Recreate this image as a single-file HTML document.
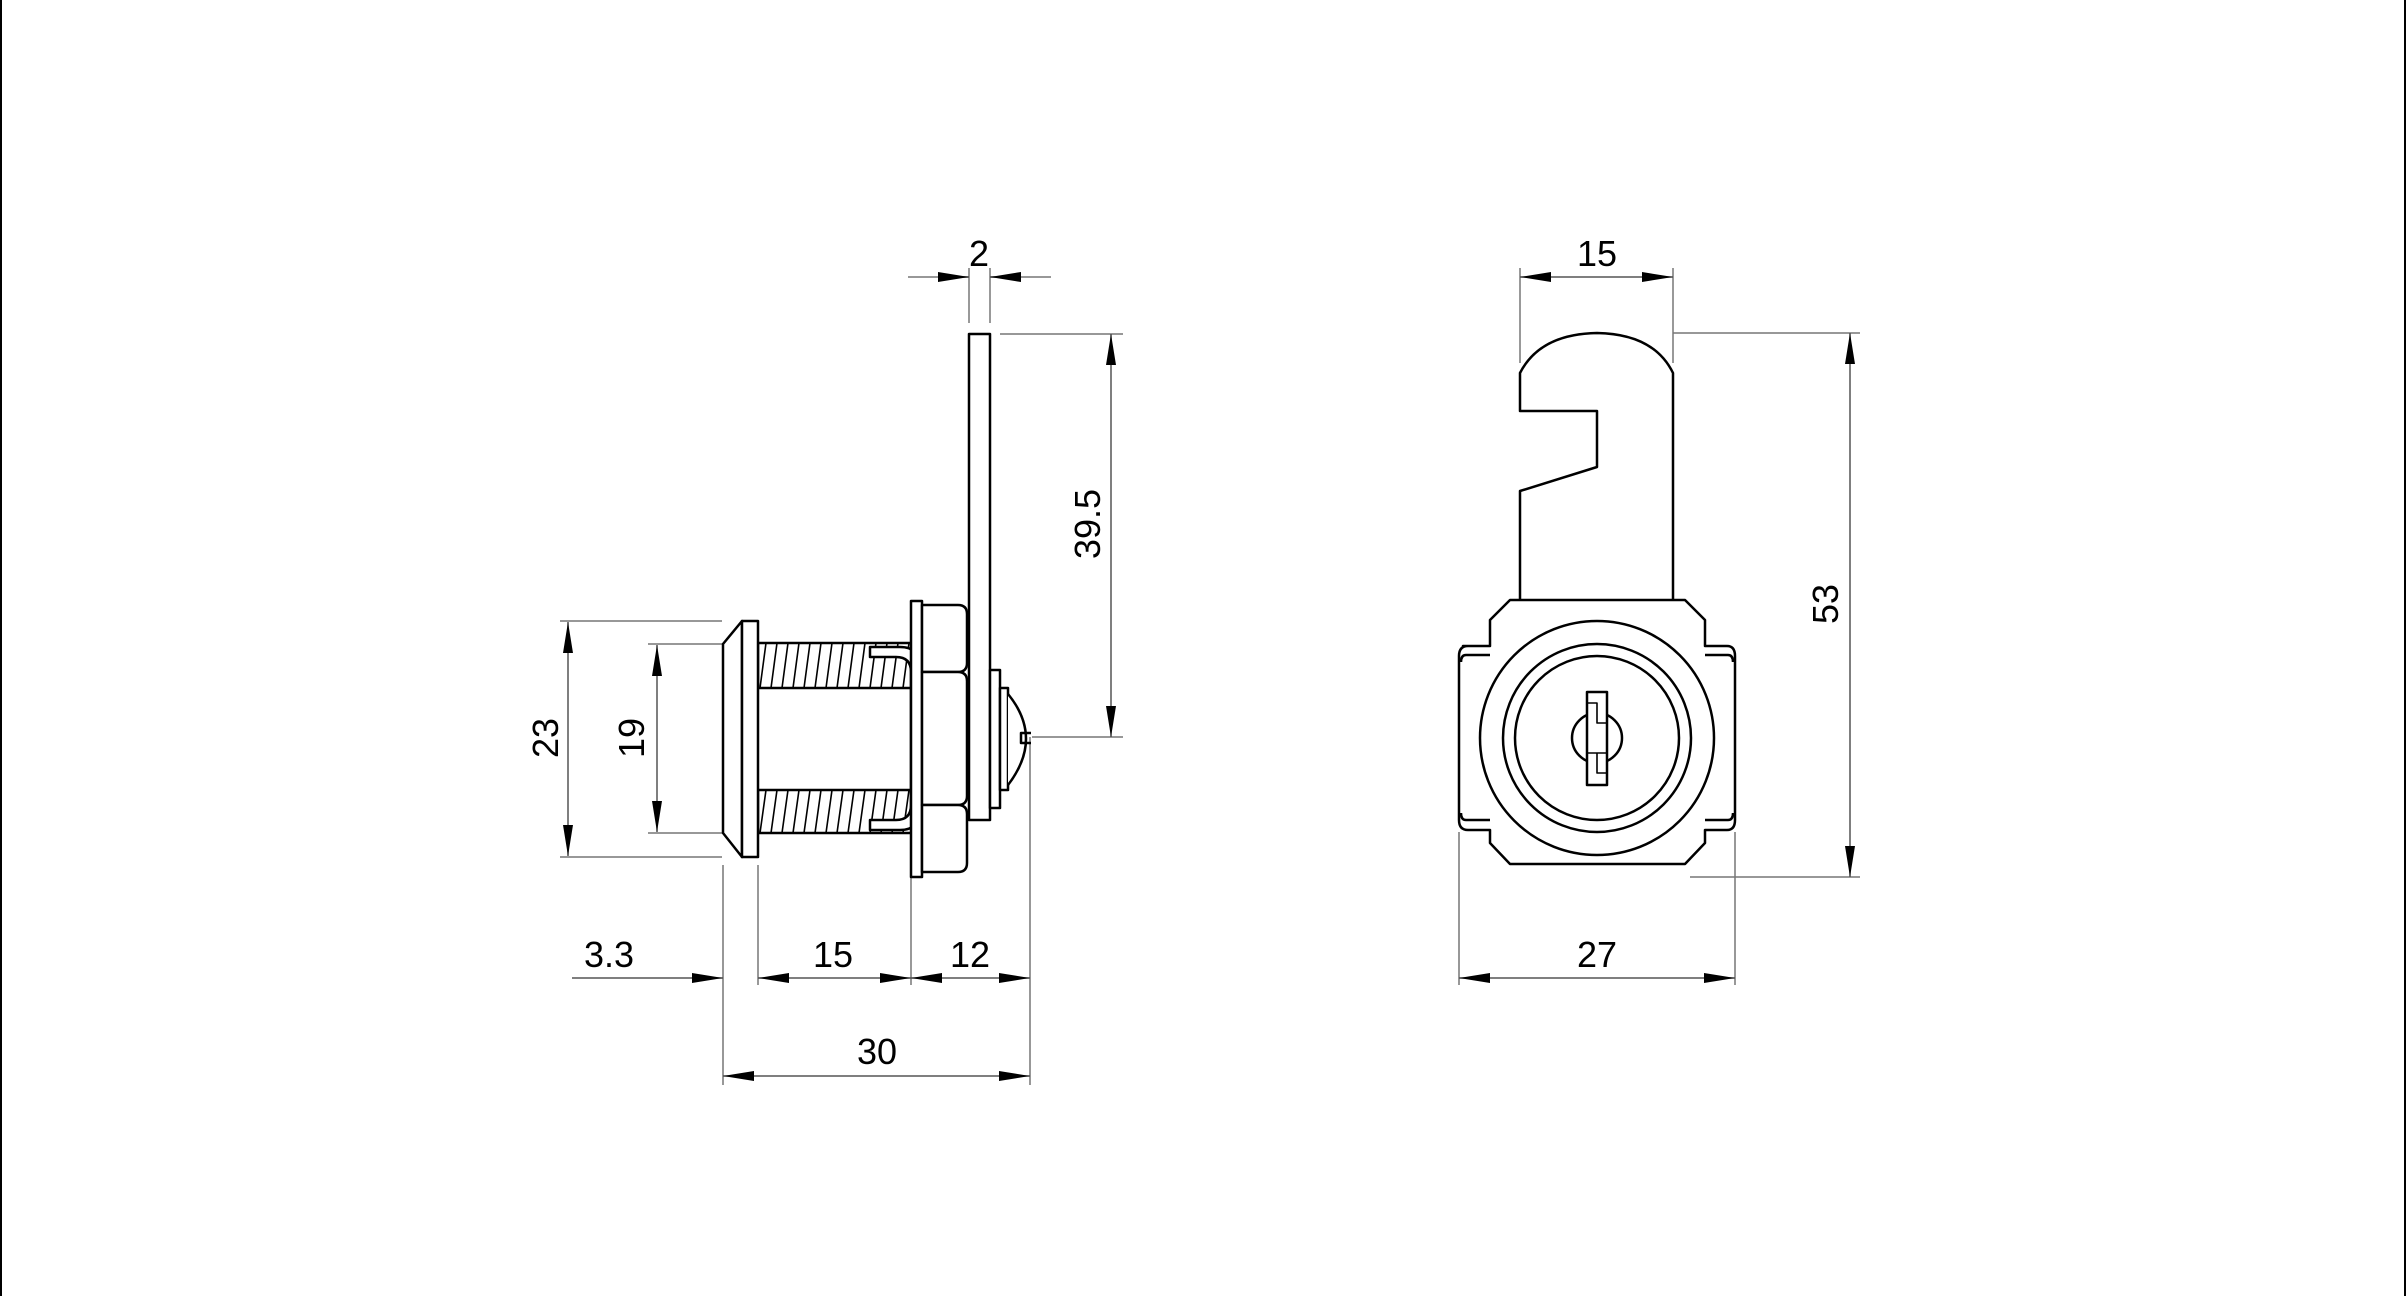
<!DOCTYPE html>
<html><head><meta charset="utf-8"><style>
html,body{margin:0;padding:0;background:#fff;}
svg{display:block;}
text{font-family:"Liberation Sans",sans-serif;font-size:36px;fill:#000;}
</style></head><body>
<svg width="2407" height="1296" viewBox="0 0 2407 1296" xmlns="http://www.w3.org/2000/svg">
<defs>
<marker id="a" viewBox="0 0 31 10" refX="31" refY="5" markerWidth="31" markerHeight="10" markerUnits="userSpaceOnUse" orient="auto-start-reverse"><path d="M0,0 L31,5 L0,10 Z" fill="#000"/></marker>
</defs>
<rect x="1" y="-2" width="2404" height="1300" fill="none" stroke="#000" stroke-width="2"/>

<g stroke="#777" stroke-width="1.5" fill="none">
 <line x1="560" y1="621" x2="722" y2="621"/><line x1="560" y1="857" x2="722" y2="857"/>
 <line x1="648" y1="644" x2="760" y2="644"/><line x1="648" y1="833" x2="760" y2="833"/>
 <line x1="723" y1="865" x2="723" y2="1085"/><line x1="758" y1="865" x2="758" y2="985"/>
 <line x1="911" y1="877" x2="911" y2="985"/><line x1="1030" y1="737" x2="1030" y2="1085"/>
 <line x1="969" y1="268" x2="969" y2="323"/><line x1="990" y1="268" x2="990" y2="323"/>
 <line x1="908" y1="277" x2="969" y2="277"/><line x1="990" y1="277" x2="1051" y2="277"/>
 <line x1="1000" y1="334" x2="1123" y2="334"/><line x1="1032" y1="737" x2="1123" y2="737"/>
 <line x1="1520" y1="268" x2="1520" y2="363"/><line x1="1673" y1="268" x2="1673" y2="363"/>
 <line x1="1673" y1="333" x2="1860" y2="333"/><line x1="1690" y1="877" x2="1860" y2="877"/>
 <line x1="1459" y1="832" x2="1459" y2="985"/><line x1="1735" y1="832" x2="1735" y2="985"/>
</g>
<g stroke="#555" stroke-width="1.5" fill="none">
 <line x1="568" y1="622" x2="568" y2="856" marker-start="url(#a)" marker-end="url(#a)"/>
 <line x1="657" y1="645" x2="657" y2="832" marker-start="url(#a)" marker-end="url(#a)"/>
 <line x1="572" y1="978" x2="723" y2="978" marker-end="url(#a)"/>
 <line x1="758" y1="978" x2="911" y2="978" marker-start="url(#a)" marker-end="url(#a)"/>
 <line x1="911" y1="978" x2="1030" y2="978" marker-start="url(#a)" marker-end="url(#a)"/>
 <line x1="723" y1="1076" x2="1030" y2="1076" marker-start="url(#a)" marker-end="url(#a)"/>
 <line x1="939" y1="277" x2="969" y2="277" marker-end="url(#a)"/>
 <line x1="1021" y1="277" x2="990" y2="277" marker-end="url(#a)"/>
 <line x1="1111" y1="334" x2="1111" y2="737" marker-start="url(#a)" marker-end="url(#a)"/>
 <line x1="1520" y1="277" x2="1673" y2="277" marker-start="url(#a)" marker-end="url(#a)"/>
 <line x1="1850" y1="333" x2="1850" y2="877" marker-start="url(#a)" marker-end="url(#a)"/>
 <line x1="1459" y1="978" x2="1735" y2="978" marker-start="url(#a)" marker-end="url(#a)"/>
</g>

<text x="979" y="266" text-anchor="middle">2</text>
<text x="1597" y="266" text-anchor="middle">15</text>
<text x="609" y="967" text-anchor="middle">3.3</text>
<text x="833" y="967" text-anchor="middle">15</text>
<text x="970" y="967" text-anchor="middle">12</text>
<text x="877" y="1064" text-anchor="middle">30</text>
<text x="1597" y="967" text-anchor="middle">27</text>
<text transform="translate(558,738) rotate(-90)" text-anchor="middle">23</text>
<text transform="translate(644,738) rotate(-90)" text-anchor="middle">19</text>
<text transform="translate(1100,524) rotate(-90)" text-anchor="middle">39.5</text>
<text transform="translate(1838,604) rotate(-90)" text-anchor="middle">53</text>

<g stroke="#000" stroke-width="2.5" fill="#fff" stroke-linejoin="round">
 <rect x="758" y="643" width="154" height="45"/>
 <rect x="758" y="790" width="154" height="43"/>
 <g stroke-width="1.6">
  <path d="M760,688 L766,643 M771,688 L777,643 M782,688 L788,643 M793,688 L799,643 M804,688 L810,643 M815,688 L821,643 M826,688 L832,643 M837,688 L843,643 M848,688 L854,643 M859,688 L865,643 M870,688 L876,643 M881,688 L887,643 M892,688 L898,643 M903,688 L909,643"/>
  <path d="M760,833 L766,790 M771,833 L777,790 M782,833 L788,790 M793,833 L799,790 M804,833 L810,790 M815,833 L821,790 M826,833 L832,790 M837,833 L843,790 M848,833 L854,790 M859,833 L865,790 M870,833 L876,790 M881,833 L887,790 M892,833 L898,790 M903,833 L909,790"/>
 </g>
 <path d="M742,621 L723,644 L723,833 L742,857 Z"/>
 <rect x="742" y="621" width="16" height="236"/>
 <path d="M870,647 L900,647 Q920,647 920,667 L920,810 Q920,830 900,830 L870,830 L870,820 L896,820 Q911,820 911,805 L911,672 Q911,657 896,657 L870,657 Z"/>
 <rect x="911" y="601" width="11" height="276"/>
 <path d="M922,605 L958,605 Q967,605 967,614 L967,663 Q967,672 958,672 L922,672 Z"/>
 <path d="M922,672 L958,672 Q967,672 967,681 L967,796 Q967,805 958,805 L922,805 Z"/>
 <path d="M922,805 L958,805 Q967,805 967,814 L967,863 Q967,872 958,872 L922,872 Z"/>
 <rect x="969" y="334" width="21" height="486"/>
 <rect x="990" y="670" width="10" height="138"/>
 <rect x="1000" y="688" width="8" height="102"/>
 <path d="M1008,694 Q1044,738 1008,785" />
 <path d="M1031,733 L1021,733 L1021,743 L1031,743" fill="none"/>
</g>

<g stroke="#000" stroke-width="2.5" fill="#fff" stroke-linejoin="round">
 <path d="M1520,600 L1520,491 L1597,467 L1597,411 L1520,411 L1520,373 Q1540,334 1597,333 Q1654,334 1673,373 L1673,600"/>
 <path d="M1463,646 L1490,646 L1490,620 L1510,600 L1685,600 L1705,620 L1705,646 L1727,646 Q1735,646 1735,656 L1735,820 Q1735,830 1727,830 L1705,830 L1705,843 L1685,864 L1510,864 L1490,843 L1490,830 L1468,830 Q1459,830 1459,820 L1459,656 Q1459,646 1468,646 Z"/>
 <path d="M1490,655 L1466,655 Q1461,655 1461,662 M1705,655 L1728,655 Q1733,655 1733,662 M1490,820 L1466,820 Q1461,820 1461,813 M1705,820 L1728,820 Q1733,820 1733,813" fill="none"/>
 <circle cx="1597" cy="738" r="117"/>
 <circle cx="1597" cy="738" r="94"/>
 <circle cx="1597" cy="738" r="82"/>
 <circle cx="1597" cy="738" r="25"/>
 <rect x="1587" y="692" width="20" height="93"/>
 <path d="M1587,703 L1597,703 L1597,723 L1607,723 M1607,753 L1597,753 L1597,773 L1607,773 M1587,753 L1597,753" fill="none" stroke-width="1.6"/>
</g>
</svg>
</body></html>
